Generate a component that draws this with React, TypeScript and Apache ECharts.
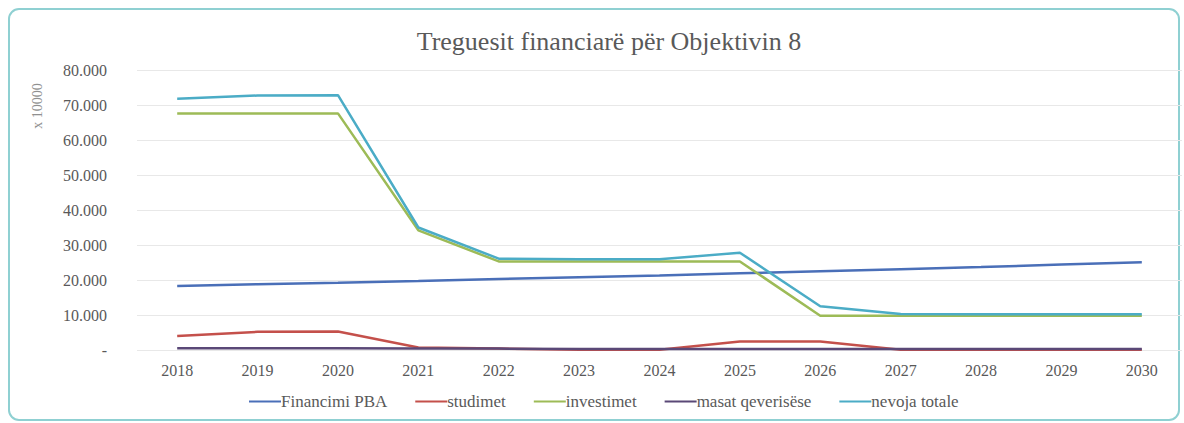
import React, { useEffect, useRef } from "react";
import * as echarts from "echarts";

const years = ["2018", "2019", "2020", "2021", "2022", "2023", "2024", "2025", "2026", "2027", "2028", "2029", "2030"];
const financimiPBA = [18300, 18800, 19200, 19700, 20300, 20800, 21300, 21900, 22500, 23100, 23700, 24400, 25100];
const studimet = [4000, 5200, 5300, 700, 400, 100, 100, 2400, 2400, 100, 100, 100, 100];
const investimet = [67600, 67600, 67600, 34200, 25300, 25300, 25300, 25300, 9800, 9800, 9800, 9800, 9800];
const masatQeverisese = [500, 500, 500, 400, 400, 300, 300, 300, 300, 300, 300, 300, 300];
const nevojaTotale = [71800, 72700, 72800, 35000, 26100, 25900, 25900, 27800, 12500, 10300, 10200, 10200, 10200];

const seriesNames = ["Financimi PBA", "studimet", "investimet", "masat qeverisëse", "nevoja totale"];
const seriesColors = ["#4a6fb8", "#c4504b", "#9dbb57", "#5a4877", "#4bacc6"];

const serif = "Liberation Serif, serif";

export default function App() {
  const ref = useRef<HTMLDivElement>(null);
  useEffect(() => {
    if (!ref.current) return;
    const chart = echarts.init(ref.current, undefined, { renderer: "svg" });
    const dataSets = [financimiPBA, studimet, investimet, masatQeverisese, nevojaTotale];
    chart.setOption({
      animation: false,
      backgroundColor: "#ffffff",
      textStyle: { fontFamily: serif },
      title: {
        text: "Treguesit financiarë për Objektivin 8",
        left: 604,
        textAlign: "center",
        top: 23,
        textStyle: { fontFamily: serif, fontSize: 26, fontWeight: "normal", color: "#595959" },
      },
      graphic: [
        {
          type: "rect",
          shape: { x: 9, y: 9, width: 1170, height: 411, r: 10 },
          style: { fill: "none", stroke: "#8fd0d2", lineWidth: 2 },
          silent: true,
          z: -1,
        },
        {
          type: "text",
          x: 37,
          y: 106,
          rotation: Math.PI / 2,
          style: {
            text: "x 10000",
            fontFamily: serif,
            fontSize: 14,
            fill: "#909090",
            align: "center",
            verticalAlign: "middle",
          },
        },
      ],
      legend: {
        bottom: 8,
        left: 244,
        itemWidth: 32,
        itemHeight: 2,
        itemGap: 28,
        icon: "rect",
        textStyle: { fontFamily: serif, fontSize: 17, color: "#595959", padding: [0, 0, 0, -5] },
        data: seriesNames,
      },
      grid: { left: 137, right: 2, top: 70, bottom: 73 },
      xAxis: {
        type: "category",
        data: years,
        boundaryGap: true,
        axisLine: { show: false },
        axisTick: { show: false },
        axisLabel: { fontFamily: serif, fontSize: 16, color: "#595959", margin: 12 },
      },
      yAxis: {
        type: "value",
        min: 0,
        max: 80000,
        interval: 10000,
        axisLine: { show: false },
        axisTick: { show: false },
        splitLine: { lineStyle: { color: "#e8e8e8", width: 1 } },
        axisLabel: {
          fontFamily: serif,
          fontSize: 16,
          color: "#595959",
          margin: 30,
          formatter: (v: number) => (v === 0 ? "-" : v.toLocaleString("en-US").replace(/,/g, ".")),
        },
      },
      series: seriesNames.map((name, i) => ({
        name,
        type: "line",
        data: dataSets[i],
        symbol: "none",
        showSymbol: false,
        itemStyle: { color: seriesColors[i] },
        lineStyle: { color: seriesColors[i], width: 2.5 },
      })),
    });
    return () => chart.dispose();
  }, []);
  return <div ref={ref} style={{ position: "absolute", left: 0, top: 0, width: 1184, height: 423 }} />;
}
